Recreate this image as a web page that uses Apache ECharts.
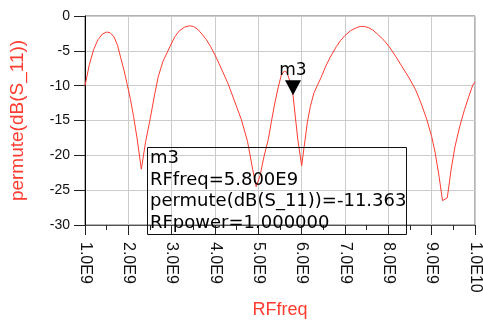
<!DOCTYPE html>
<html>
<head>
<meta charset="utf-8">
<script src="https://cdn.jsdelivr.net/npm/echarts@6/dist/echarts.min.js"></script>
<style>
  html, body { margin: 0; padding: 0; background: #fff; }
  #chart { width: 483px; height: 324px; }
</style>
</head>
<body>
<div id="chart"></div>
<script>
// RF frequency in GHz (axis labels show it as E9)
const freqGHz = [
  1.00, 1.10, 1.20, 1.30, 1.40, 1.50, 1.58, 1.67, 1.75, 1.82,
  1.90, 1.97, 2.05, 2.12, 2.20, 2.30, 2.40, 2.50, 2.60, 2.69,
  2.80, 2.96, 3.07, 3.18, 3.30, 3.41, 3.50, 3.60, 3.70, 3.80,
  3.90, 4.00, 4.15, 4.30, 4.45, 4.61, 4.75, 4.87, 4.95, 5.04,
  5.13, 5.23, 5.30, 5.38, 5.46, 5.53, 5.60, 5.66, 5.72, 5.80,
  5.91, 6.00, 6.13, 6.20, 6.28, 6.36, 6.45, 6.55, 6.66, 6.80,
  6.90, 7.00, 7.13, 7.26, 7.35, 7.45, 7.55, 7.64, 7.75, 7.90,
  8.02, 8.17, 8.32, 8.48, 8.63, 8.76, 8.89, 9.00, 9.08, 9.17,
  9.25, 9.36, 9.45, 9.54, 9.65, 9.76, 9.86, 9.95, 10.00,
];
const s11dB = [
  -10.0, -7.0, -4.8, -3.4, -2.6, -2.3, -2.4, -3.0, -4.2, -5.9,
  -7.8, -9.7, -12.0, -14.4, -17.5, -22.0, -18.0, -14.9, -11.5, -8.7,
  -6.5, -4.4, -3.0, -2.1, -1.6, -1.4, -1.5, -1.9, -2.6, -3.4,
  -4.4, -5.6, -7.6, -9.7, -12.2, -14.9, -18.0, -22.0, -24.5, -22.9,
  -20.2, -17.7, -15.2, -12.5, -10.2, -8.5, -7.9, -8.1, -9.2, -11.363,
  -17.7, -21.5, -15.3, -13.0, -11.1, -10.0, -8.8, -7.3, -5.9, -4.4,
  -3.5, -2.8, -2.1, -1.7, -1.5, -1.5, -1.7, -2.0, -2.6, -3.5,
  -4.4, -5.8, -7.3, -8.9, -10.6, -12.6, -14.9, -17.3, -19.6, -23.0,
  -26.5, -26.1, -22.0, -18.7, -15.8, -13.4, -11.5, -9.9, -9.5,
];
const xTickLabels = ["1.0E9", "2.0E9", "3.0E9", "4.0E9", "5.0E9",
  "6.0E9", "7.0E9", "8.0E9", "9.0E9", "1.0E10"];

// marker m3
const markerName = "m3";
const markerFreq = 5.8;
const markerValue = -11.363;
const markerPower = 1.0;

const markerLines = [
  markerName,
  "RFfreq=" + markerFreq.toFixed(3) + "E9",
  "permute(dB(S_11))=" + markerValue.toFixed(3),
  "RFpower=" + markerPower.toFixed(6),
];

const chart = echarts.init(document.getElementById("chart"));
const arial = "'Liberation Sans', Arial, sans-serif";
const narrow = "'Liberation Sans Narrow', 'Liberation Sans', sans-serif";
const wide = "'DejaVu Sans', sans-serif";
const red = "#ff3b30";

const option = {
  animation: false,
  grid: {
    left: 82, right: 6, top: 16, bottom: 96,
    show: true, borderColor: "#666", borderWidth: 1,
  },
  xAxis: {
    type: "value",
    min: 1, max: 10, interval: 1,
    name: "RFfreq",
    nameLocation: "middle",
    nameGap: 76,
    nameTextStyle: { color: red, fontSize: 18, fontFamily: arial },
    axisLine: { onZero: false, lineStyle: { color: "#555", width: 1 } },
    axisTick: { length: 10, lineStyle: { color: "#222" } },
    minorTick: { show: true, splitNumber: 2, length: 5, lineStyle: { color: "#222" } },
    axisLabel: {
      rotate: -90, color: "#111", fontSize: 16, fontFamily: narrow, margin: 17,
      formatter: (v) => xTickLabels[Math.round(v) - 1],
    },
    splitLine: { show: true, lineStyle: { color: "#ccc", width: 1 } },
  },
  yAxis: {
    type: "value",
    min: -30, max: 0, interval: 5,
    name: "permute(dB(S_11))",
    nameLocation: "middle",
    nameGap: 58,
    nameTextStyle: { color: red, fontSize: 19, fontFamily: arial },
    axisLine: { show: true, onZero: false, lineStyle: { color: "#000", width: 1 } },
    axisTick: { show: true, length: 11, lineStyle: { color: "#222" } },
    axisLabel: { color: "#111", fontSize: 14, fontFamily: arial, margin: 15 },
    splitLine: { show: true, lineStyle: { color: "#ccc", width: 1 } },
  },
  series: [
    {
      type: "line",
      data: freqGHz.map((f, i) => [f, s11dB[i]]),
      symbol: "none",
      lineStyle: { color: red, width: 1 },
      markPoint: {
        data: [{ name: markerName, coord: [markerFreq, markerValue] }],
        symbol: "triangle",
        symbolRotate: 180,
        symbolSize: [16, 15],
        symbolOffset: [0, "-50%"],
        itemStyle: { color: "#000" },
        label: {
          show: true, position: "top", distance: 1,
          formatter: markerName, color: "#000",
          fontSize: 17, fontFamily: wide,
        },
      },
    },
  ],
  graphic: [
    {
      type: "rect",
      shape: { x: 147.5, y: 147.5, width: 259, height: 87 },
      style: { fill: "none", stroke: "#111", lineWidth: 1 },
      z: 100,
    },
    {
      type: "text",
      left: 150, top: 148,
      style: {
        text: markerLines.join("\n"),
        fontSize: 18,
        fontFamily: wide,
        lineHeight: 21.5,
        fill: "#000",
      },
      z: 101,
    },
  ],
};
chart.setOption(option);
</script>
</body>
</html>
